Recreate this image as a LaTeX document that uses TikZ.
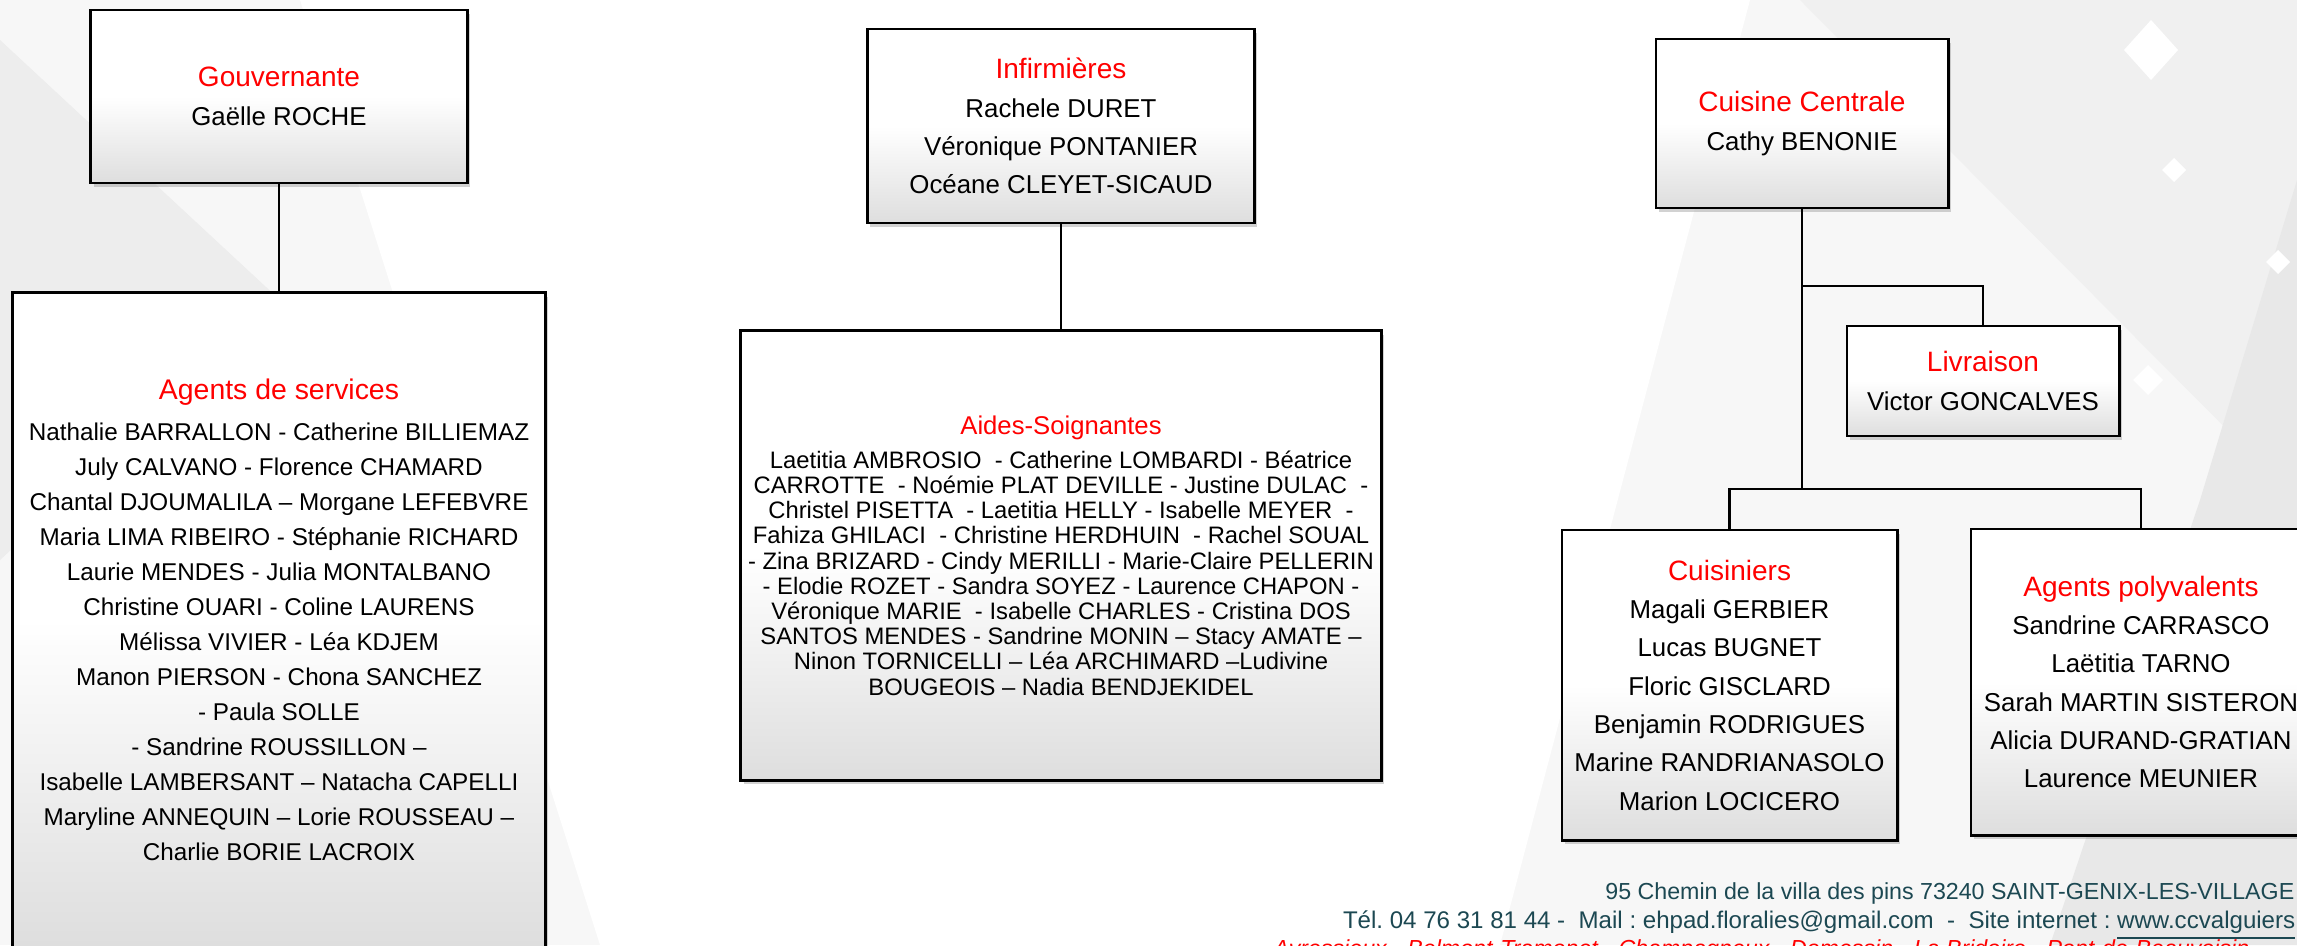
\documentclass[tikz,border=0pt]{standalone}
\usepackage{fontspec}
\setmainfont{Liberation Sans}
\usepackage{xcolor}
\usetikzlibrary{shadows,positioning}

\definecolor{FootTeal}{RGB}{28,72,82}
\newcommand{\titre}[2][7.97]{{\color{red}\fontsize{#1}{#1}\selectfont #2}}
\frenchspacing

\begin{document}
\begin{tikzpicture}[x=0.01cm, y=-0.01cm]
        \tikzset{BoxStyle/.style={draw=black, line width=0.8pt, top color=white, bottom color=black!13, middle color=white,
                   drop shadow={opacity=0.35, shadow xshift=0.8pt, shadow yshift=-1.2pt},
                   align=center, inner sep=0pt, font=\fontsize{7.35}{10.9}\selectfont},
                 LinkStyle/.style={draw=black, line width=0.75pt},       % plain connectors
                 FootStyle/.style={anchor=base east, inner sep=0pt, text=FootTeal, font=\fontsize{6.6}{8}\selectfont}}

        \useasboundingbox (0,0) rectangle (2297,945);
        \clip (0,0) rectangle (2297,945);

        % background
        \fill[black!3] (0,0) rectangle (2297,945);
        \fill[black!7] (0,40) -- (280,300) -- (0,560) -- cycle;
        \fill[white] (300,0) -- (1750,0) -- (1500,945) -- (600,945) -- cycle;
        \fill[black!6] (1800,0) -- (2297,0) -- (2297,500) -- cycle;
        \fill[black!9] (2297,180) -- (2297,945) -- (2050,945) -- (2200,500) -- cycle;
        \fill[white] (2151,20) -- (2178,50) -- (2151,80) -- (2124,50) -- cycle;
        \fill[white] (2174,158) -- (2186,170) -- (2174,182) -- (2162,170) -- cycle;
        \fill[white] (2278,250) -- (2290,262) -- (2278,274) -- (2266,262) -- cycle;
        \fill[white] (2148,365) -- (2163,380) -- (2148,395) -- (2133,380) -- cycle;

        % left branch
        \node[BoxStyle, minimum width=3.76cm, minimum height=1.73cm] (gouv) at (279,96.5)
             {\titre{Gouvernante}\\Gaëlle ROCHE};
        \node[BoxStyle, minimum width=5.32cm, minimum height=6.54cm, font=\fontsize{6.9}{9.96}\selectfont] (agserv) at (279,620)
             {\titre[8.08]{Agents de services}\\[1.6pt]
              Nathalie BARRALLON - Catherine BILLIEMAZ\\
              July CALVANO - Florence CHAMARD\\
              Chantal DJOUMALILA – Morgane LEFEBVRE\\
              Maria LIMA RIBEIRO - Stéphanie RICHARD\\
              Laurie MENDES - Julia MONTALBANO\\
              Christine OUARI - Coline LAURENS\\
              Mélissa VIVIER - Léa KDJEM\\
              Manon PIERSON - Chona SANCHEZ\\
              - Paula SOLLE\\
              - Sandrine ROUSSILLON –\\
              Isabelle LAMBERSANT – Natacha CAPELLI\\
              Maryline ANNEQUIN – Lorie ROUSSEAU –\\
              Charlie BORIE LACROIX};

        % middle branch
        \node[BoxStyle, minimum width=3.87cm, minimum height=1.94cm] (infirm) at (1061,126)
             {\titre{Infirmières}\\Rachele DURET\\Véronique PONTANIER\\Océane CLEYET-SICAUD};
        \node[BoxStyle, minimum width=6.40cm, minimum height=4.49cm, font=\fontsize{6.77}{7.17}\selectfont] (aides) at (1061,555.5)
             {\titre[7.3]{Aides-Soignantes}\\[2.5pt]
              Laetitia AMBROSIO~ - Catherine LOMBARDI - Béatrice\\
              CARROTTE~ - Noémie PLAT DEVILLE - Justine DULAC~ -\\
              Christel PISETTA~ - Laetitia HELLY - Isabelle MEYER~ -\\
              Fahiza GHILACI~ - Christine HERDHUIN~ - Rachel SOUAL\\
              - Zina BRIZARD - Cindy MERILLI - Marie-Claire PELLERIN\\
              - Elodie ROZET - Sandra SOYEZ - Laurence CHAPON -\\
              Véronique MARIE~ - Isabelle CHARLES - Cristina DOS\\
              SANTOS MENDES - Sandrine MONIN – Stacy AMATE –\\
              Ninon TORNICELLI – Léa ARCHIMARD –Ludivine\\
              BOUGEOIS – Nadia BENDJEKIDEL};

        % right branch
        \node[BoxStyle, minimum width=2.92cm, minimum height=1.69cm] (cuisine) at (1802,123.5)
             {\titre{Cuisine Centrale}\\Cathy BENONIE};
        \node[BoxStyle, minimum width=2.72cm, minimum height=1.10cm] (livr) at (1983,381)
             {\titre{Livraison}\\Victor GONCALVES};
        \node[BoxStyle, minimum width=3.35cm, minimum height=3.10cm] (cuisiniers) at (1729.5,685)
             {\titre{Cuisiniers}\\Magali GERBIER\\Lucas BUGNET\\Floric GISCLARD\\Benjamin RODRIGUES\\Marine RANDRIANASOLO\\Marion LOCICERO};
        \node[BoxStyle, minimum width=3.40cm, minimum height=3.06cm] (agpoly) at (2141,682)
             {\titre{Agents polyvalents}\\Sandrine CARRASCO\\Laëtitia TARNO\\Sarah MARTIN SISTERON\\Alicia DURAND-GRATIAN\\Laurence MEUNIER};

        \coordinate (k1) at (1802,286);
        \coordinate (k2) at (1802,489);

        \draw[LinkStyle] (gouv) -- (agserv);
        \draw[LinkStyle] (infirm) -- (aides);
        \draw[LinkStyle] (cuisine) -- (k2);
        \draw[LinkStyle] (k1) -| (livr);
        \draw[LinkStyle] (cuisiniers) |- (k2) -| (agpoly);

        % footer
        \node[FootStyle] (adr) at (2295,899)
             {95 Chemin de la villa des pins 73240 SAINT-GENIX-LES-VILLAGE};
        \node[FootStyle, font=\fontsize{6.85}{8}\selectfont] (contact) at (2296,928)
             {Tél. 04 76 31 81 44 -~ Mail : ehpad.floralies@gmail.com~ -~ Site internet : \underline{www.ccvalguiers}};
        \node[anchor=north west, inner sep=0pt, text=red, font=\fontsize{6.6}{8}\selectfont\itshape] (villes) at (1273,939)
             {Avressieux - Belmont-Tramonet - Champagneux - Domessin - La Bridoire - Pont-de-Beauvoisin};

      \end{tikzpicture}
\end{document}
